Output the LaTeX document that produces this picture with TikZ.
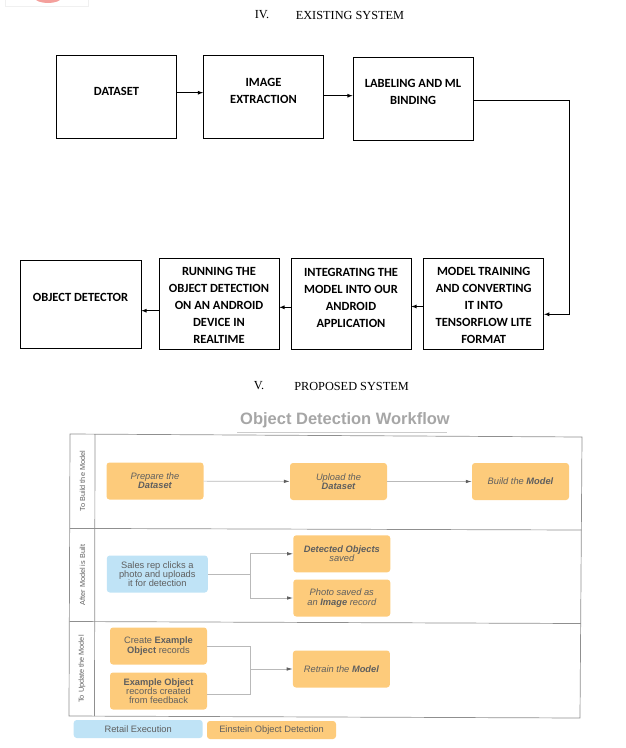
\documentclass[tikz,border=0pt]{standalone}
\usepackage{fontspec}
\setmainfont{Liberation Serif}
\newfontfamily\boxfont{Carlito}
\newfontfamily\flowfont{Liberation Sans}
\usetikzlibrary{arrows.meta}

\definecolor{flowor}{HTML}{FDCB7B}
\definecolor{flowbl}{HTML}{BFE3F6}
\definecolor{flowtx}{HTML}{5F5F5F}
\definecolor{lanegr}{HTML}{8F8F8F}
\definecolor{headgr}{HTML}{A6A6A6}
\definecolor{logopk}{HTML}{F4A09C}

\tikzset{
  sysbox/.style={draw, line width=0.8pt, inner sep=0pt, minimum width=120pt, minimum height=83pt},
  systxt/.style={font=\boxfont\bfseries\fontsize{12.5}{17}\selectfont, align=center, inner sep=0pt},
  secttl/.style={font=\fontsize{12.3}{14}\selectfont, inner sep=0pt},
  wfbox/.style={fill=flowor, rounded corners=3pt, minimum width=97pt, minimum height=37pt, inner sep=1pt,
    text=flowtx, align=center, font=\flowfont\fontsize{9.3}{9.2}\selectfont},
  wfital/.style={wfbox, font=\flowfont\itshape\fontsize{9.3}{9.2}\selectfont},
  wfblue/.style={wfbox, fill=flowbl},
  legbox/.style={minimum width=129pt, minimum height=18pt, font=\flowfont\fontsize{9.3}{10}\selectfont},
  lanetxt/.style={rotate=90, text=flowtx, font=\flowfont\fontsize{7.3}{8}\selectfont, inner sep=0pt},
  wfline/.style={draw=gray!55, line width=0.7pt},
  wfarrow/.style={wfline, -{Latex[length=6pt,width=3.5pt,color=flowtx]}},
}

\begin{document}
\begin{tikzpicture}[x=1pt,y=-1pt]
  \useasboundingbox (0,0) rectangle (626,748);

  % logo cut off at the top
  \fill[logopk] (48,-2) ellipse (13 and 5);
  \draw[gray!12] (5,-2) rectangle (88,6.5);

  % existing system
  \node[secttl] (ttl4n) at (262,15) {IV.};
  \node[secttl] (ttl4) at (350,15) {EXISTING SYSTEM};

  \node[sysbox] (ds) at (116.5,96.5) {};
  \node[sysbox] (imgx) at (263.5,96.5) {};
  \node[sysbox] (lab) at (413,98.5) {};
  \node[sysbox, minimum width=121pt, minimum height=88pt] (det) at (80.5,304) {};
  \node[sysbox, minimum height=91pt] (run) at (219,303.5) {};
  \node[sysbox, minimum height=91pt] (integ) at (351,303.5) {};
  \node[sysbox, minimum height=91pt] (train) at (483.7,303.5) {};

  \node[systxt] (ds-t) at ([yshift=5.5pt]ds.center) {DATASET};
  \node[systxt] (imgx-t) at ([yshift=5.5pt]imgx.center) {IMAGE\\EXTRACTION};
  \node[systxt] (lab-t) at ([yshift=6.5pt]lab.center) {LABELING AND ML\\BINDING};
  \node[systxt] (det-t) at ([yshift=7pt]det.center) {OBJECT DETECTOR};
  \node[systxt] (run-t) at ([yshift=-2pt]run.center) {RUNNING THE\\OBJECT DETECTION\\ON AN ANDROID\\DEVICE IN\\REALTIME};
  \node[systxt] (integ-t) at ([yshift=5.5pt]integ.center) {INTEGRATING THE\\MODEL INTO OUR\\ANDROID\\APPLICATION};
  \node[systxt] (train-t) at ([yshift=-1.5pt]train.center) {MODEL TRAINING\\AND CONVERTING\\IT INTO\\TENSORFLOW LITE\\FORMAT};

  \draw[-latex, line width=0.8pt] ([yshift=3.8pt]ds.east) -- ([yshift=3.8pt]ds.east -| imgx.west);
  \draw[-latex, line width=0.8pt] ([yshift=0.8pt]imgx.east) -- ([yshift=0.8pt]imgx.east -| lab.west);
  \coordinate (bend) at (569,100.7);
  \draw[-latex, line width=0.8pt] ([yshift=-2.2pt]lab.east) -- (bend) |- ([yshift=-10.8pt]train.east);
  \draw[-latex, line width=0.8pt] ([yshift=-3pt]train.west) -- ([yshift=-3pt]train.west -| integ.east);
  \draw[-latex, line width=0.8pt] ([yshift=-3.8pt]integ.west) -- ([yshift=-3.8pt]integ.west -| run.east);
  \draw[-latex, line width=0.8pt] ([yshift=-7.2pt]run.west) -- ([yshift=-7.2pt]run.west -| det.east);

  % proposed system
  \node[secttl] (ttl5n) at (259,386) {V.};
  \node[secttl] (ttl5) at (351.5,386) {PROPOSED SYSTEM};

  \node[font=\flowfont\bfseries\fontsize{16.5}{18}\selectfont, text=headgr] (wft) at (345,420) {Object Detection Workflow};
  \draw[gray!40, line width=0.8pt] (237,432) -- (447,432);

  % swim lanes
  \draw[lanegr, line width=0.7pt] (70,434) -- (582,437) -- (580,718) -- (69,716) -- cycle;
  \draw[lanegr, line width=0.7pt] (70,528.4) -- (581.5,530);
  \draw[lanegr, line width=0.7pt] (69.5,621.5) -- (580.8,623.5);
  \draw[lanegr, line width=0.7pt] (95,434.2) -- (94.5,716.2);
  \node[lanetxt] (lane1) at (82.5,481) {To Build the Model};
  \node[lanetxt] (lane2) at (82.5,575) {After Model is Built};
  \node[lanetxt] (lane3) at (82,669) {To Update the Model};

  % lane 1
  \node[wfital] (prep) at (155,481) {Prepare the\\\textbf{Dataset}};
  \node[wfital] (upl) at (338.5,481.5) {Upload the\\\textbf{Dataset}};
  \node[wfital] (bld) at (520.5,481.5) {Build the \textbf{Model}};
  \draw[wfarrow] (prep) -- (upl);
  \draw[wfarrow] (upl) -- (bld);

  % lane 2
  \node[wfblue, minimum width=101pt] (sales) at (157.3,574) {Sales rep clicks a\\photo and uploads\\it for detection};
  \node[wfital] (detobj) at (341.8,553.8) {\textbf{Detected Objects}\\saved};
  \node[wfital] (photo) at (341.8,598) {Photo saved as\\an \textbf{Image} record};
  \coordinate (fork) at (250,574);
  \draw[wfline] (sales.east) -- (fork);
  \draw[wfarrow] (fork) |- (detobj.west);
  \draw[wfarrow] (fork) |- (photo.west);

  % lane 3
  \node[wfbox] (create) at (158.5,646) {Create \textbf{Example}\\\textbf{Object} records};
  \node[wfbox] (exobj) at (158.5,691) {\textbf{Example Object}\\records created\\from feedback};
  \node[wfital] (retr) at (341.4,669) {Retrain the \textbf{Model}};
  \coordinate (join) at (250,669);
  \draw[wfline] (create.east) -| (join);
  \draw[wfline] ([yshift=-3pt]exobj.east) -| (join);
  \draw[wfarrow] (join) -- (retr.west);

  % legend
  \node[wfblue, legbox] (leg1) at (138.2,729) {Retail Execution};
  \node[wfbox, legbox] (leg2) at (271.5,730) {Einstein Object Detection};
\end{tikzpicture}
\end{document}
